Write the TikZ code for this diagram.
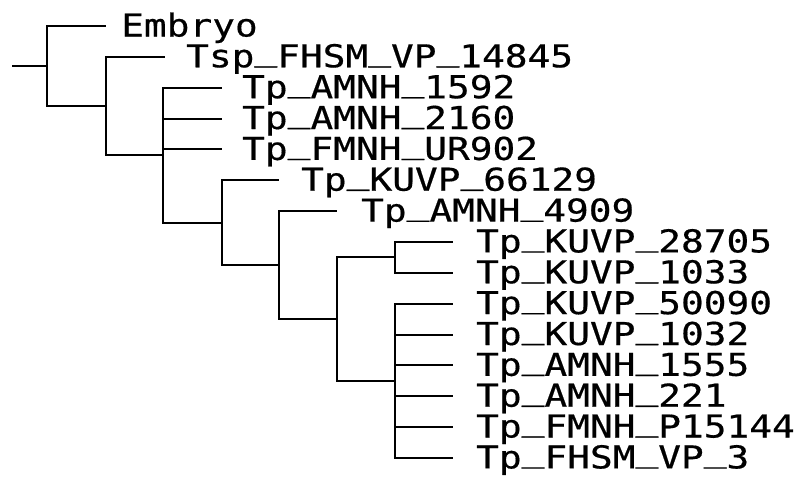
\documentclass[tikz,border=0pt]{standalone}
\usepackage{fontspec}
\newfontfamily\treefont[FakeStretch=1.2,FakeBold=0.5]{DejaVu Sans Mono}
% underscore resting on the baseline, as in the tree-drawing font
\newcommand{\us}{\raisebox{7.2pt}{\_}}
\begin{document}
\begin{tikzpicture}[x=1pt,y=-1pt,
  branch/.style={line width=2pt, line join=miter},
  taxon/.style={anchor=base west, inner sep=0pt,
    text height=23pt, text depth=5pt,
    font=\treefont\fontsize{31.5}{32}\selectfont}]
\useasboundingbox (0,0) rectangle (801,477);

% internal nodes of the cladogram (x = depth, y = midpoint of children)
\coordinate (root) at (12,66);
\coordinate (nA) at (47,66);
\coordinate (nB) at (106,106);
\coordinate (nC) at (163,155.2);
\coordinate (nD) at (222,222.7);
\coordinate (nE) at (279,265.1);
\coordinate (nF) at (337,319.1);
\coordinate (nG) at (395,257.4);
\coordinate (nH) at (395,380.8);

% branch tips
\coordinate (t0)  at (106,26);
\coordinate (t1)  at (165,56.85);
\coordinate (t2)  at (222,87.7);
\coordinate (t3)  at (222,118.55);
\coordinate (t4)  at (222,149.4);
\coordinate (t5)  at (279,180.25);
\coordinate (t6)  at (337,211.1);
\coordinate (t7)  at (453,241.95);
\coordinate (t8)  at (453,272.8);
\coordinate (t9)  at (453,303.65);
\coordinate (t10) at (453,334.5);
\coordinate (t11) at (453,365.35);
\coordinate (t12) at (453,396.2);
\coordinate (t13) at (453,427.05);
\coordinate (t14) at (453,457.9);

% branches
\draw[branch] (root) -- (nA);
\draw[branch] (nA) |- (t0);
\draw[branch] (nA) |- (nB);
\draw[branch] (nB) |- (t1);
\draw[branch] (nB) |- (nC);
\draw[branch] (nC) |- (t2);
\draw[branch] (nC) |- (t3);
\draw[branch] (nC) |- (t4);
\draw[branch] (nC) |- (nD);
\draw[branch] (nD) |- (t5);
\draw[branch] (nD) |- (nE);
\draw[branch] (nE) |- (t6);
\draw[branch] (nE) |- (nF);
\draw[branch] (nF) |- (nG);
\draw[branch] (nF) |- (nH);
\draw[branch] (nG) |- (t7);
\draw[branch] (nG) |- (t8);
\draw[branch] (nH) |- (t9);
\draw[branch] (nH) |- (t10);
\draw[branch] (nH) |- (t11);
\draw[branch] (nH) |- (t12);
\draw[branch] (nH) |- (t13);
\draw[branch] (nH) |- (t14);

% taxon labels
\node[taxon] (l0)  at (121,36.5)  {Embryo};
\node[taxon] (l1)  at (186,67.3)  {Tsp\us FHSM\us VP\us 14845};
\node[taxon] (l2)  at (242,98.2)  {Tp\us AMNH\us 1592};
\node[taxon] (l3)  at (242,129)   {Tp\us AMNH\us 2160};
\node[taxon] (l4)  at (242,159.9) {Tp\us FMNH\us UR902};
\node[taxon] (l5)  at (301,190.7) {Tp\us KUVP\us 66129};
\node[taxon] (l6)  at (361,221.6) {Tp\us AMNH\us 4909};
\node[taxon] (l7)  at (476,252.4) {Tp\us KUVP\us 28705};
\node[taxon] (l8)  at (476,283.3) {Tp\us KUVP\us 1033};
\node[taxon] (l9)  at (476,314.1) {Tp\us KUVP\us 50090};
\node[taxon] (l10) at (476,345)   {Tp\us KUVP\us 1032};
\node[taxon] (l11) at (476,375.8) {Tp\us AMNH\us 1555};
\node[taxon] (l12) at (476,406.7) {Tp\us AMNH\us 221};
\node[taxon] (l13) at (476,437.5) {Tp\us FMNH\us P15144};
\node[taxon] (l14) at (476,468.4) {Tp\us FHSM\us VP\us 3};
\end{tikzpicture}
\end{document}
